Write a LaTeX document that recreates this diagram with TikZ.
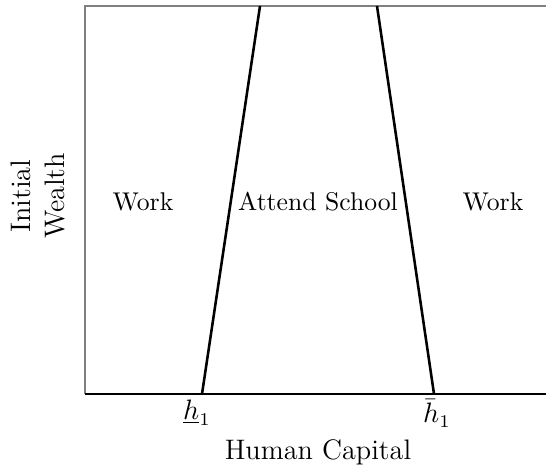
\documentclass[tikz,border=0pt]{standalone}
\begin{document}
\begin{tikzpicture}[x=0.39pt,y=-0.39pt,
  frameline/.style={draw=gray,line width=0.6pt},
  boundary/.style={draw=black,line width=1pt},
  region/.style={anchor=base,inner sep=0pt,font=\normalsize},
  axislabel/.style={inner sep=0pt,font=\fontsize{11}{13}\selectfont},
  ticklabel/.style={anchor=north,inner sep=0pt,font=\fontsize{10.5}{12}\selectfont}]
\useasboundingbox (0,0) rectangle (546,465);
% plot frame
\coordinate (tl) at (85,6);
\coordinate (tr) at (546,6);
\coordinate (bl) at (85,394);
\coordinate (br) at (546,394);
\draw[frameline] (bl) -- (tl) -- (tr);
\draw[frameline] (bl) -- (br);
\draw[boundary] (bl) -- (br);
% schooling thresholds
\coordinate (lowbot) at (202,394);
\coordinate (lowtop) at (260,6);
\coordinate (highbot) at (434,394);
\coordinate (hightop) at (377,6);
\draw[boundary] (lowbot) -- (lowtop);
\draw[boundary] (hightop) -- (highbot);
% regions
\node[region] (workL) at (143,210) {Work};
\node[region] (school) at (318,210) {Attend School};
\node[region] (workR) at (493,210) {Work};
% axis labels
\node[ticklabel] (hlow) at (197,399) {$\underline{h}_1$};
\node[ticklabel] (hhigh) at (437,399) {$\bar{h}_1$};
\node[axislabel,anchor=base] (xlab) at (318,459) {Human Capital};
\node[axislabel,rotate=90,align=center] (ylab) at (38,196) {Initial\\Wealth};
\end{tikzpicture}
\end{document}
